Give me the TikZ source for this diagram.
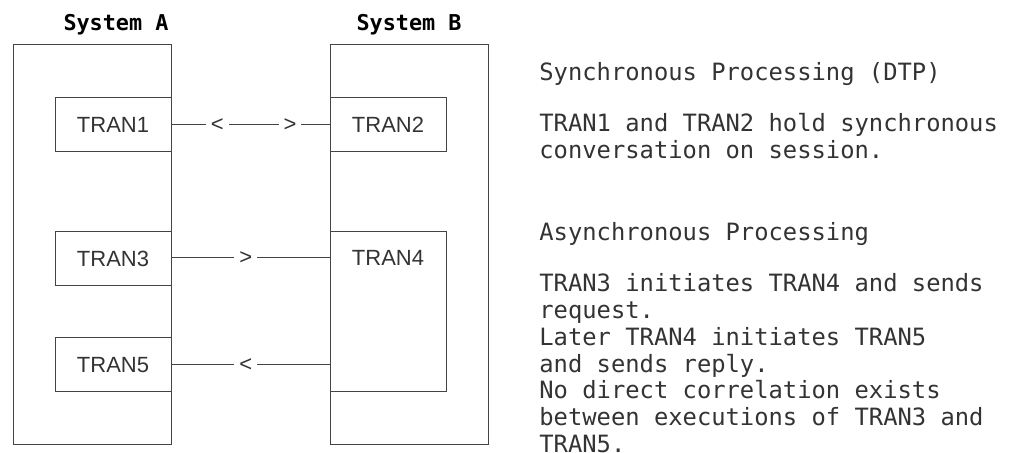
\documentclass[tikz,border=0pt]{standalone}
\usepackage{fontspec}
\setmainfont{Liberation Sans}
\newfontfamily\monofont{DejaVu Sans Mono}
\definecolor{linegray}{HTML}{444444}
\definecolor{textgray}{HTML}{333333}

\begin{document}
\begin{tikzpicture}[x=0.5pt, y=-0.5pt,
  sysbox/.style={draw=linegray, line width=0.5pt, minimum width=79pt, minimum height=200pt, inner sep=0pt},
  tranbox/.style={draw=linegray, line width=0.5pt, minimum width=58pt, minimum height=27pt, inner sep=0pt, font=\fontsize{11}{13}\selectfont, text=textgray},
  arrowchar/.style={fill=white, inner sep=2.5pt, font=\fontsize{11}{13}\selectfont, text=textgray},
  title/.style={font=\monofont\bfseries\fontsize{10.9}{13}\selectfont, anchor=base},
  notes/.style={font=\monofont\fontsize{11.9}{13.4}\selectfont, align=left, anchor=north west, inner sep=0pt, text=textgray}]
\useasboundingbox (0,0) rectangle (1011,453);
% the two systems
\node[title] (titleA) at (116,31) {System A};
\node[title] (titleB) at (409,31) {System B};
\node[sysbox] (sysA) at (92,245) {};
\node[sysbox] (sysB) at (409,245) {};
% transactions
\node[tranbox] (tran1) at (113,125) {TRAN1};
\node[tranbox] (tran2) at (388,125) {TRAN2};
\node[tranbox] (tran3) at (113,258.5) {TRAN3};
\node[tranbox] (tran5) at (113,365) {TRAN5};
\node[tranbox, minimum height=80pt] (tran4) at (388,312) {};
\node[text=textgray, font=\fontsize{11}{13}\selectfont] (tran4lbl) at (388,258) {TRAN4};
% sessions
\draw[linegray, line width=0.5pt] (tran1.east) -- node[arrowchar, pos=0.29] {<} node[arrowchar, pos=0.75] {>} (tran2.west);
\draw[linegray, line width=0.5pt] (tran3.east |- tran4lbl) -- node[arrowchar, pos=0.47] {>} (tran4.west |- tran4lbl);
\draw[linegray, line width=0.5pt] (tran5.east) -- node[arrowchar, pos=0.47] {<} (tran4.west |- tran5.east);
% notes
\node[notes] (syncHead) at (539,62.3) {Synchronous Processing (DTP)};
\node[notes] (syncText) at (539,113.3) {TRAN1 and TRAN2 hold synchronous\\conversation on session.};
\node[notes] (asyncHead) at (539,222.3) {Asynchronous Processing};
\node[notes] (asyncText) at (539,273.3) {TRAN3 initiates TRAN4 and sends\\request.\\Later TRAN4 initiates TRAN5\\and sends reply.\\No direct correlation exists\\between executions of TRAN3 and\\TRAN5.};
\end{tikzpicture}
\end{document}
